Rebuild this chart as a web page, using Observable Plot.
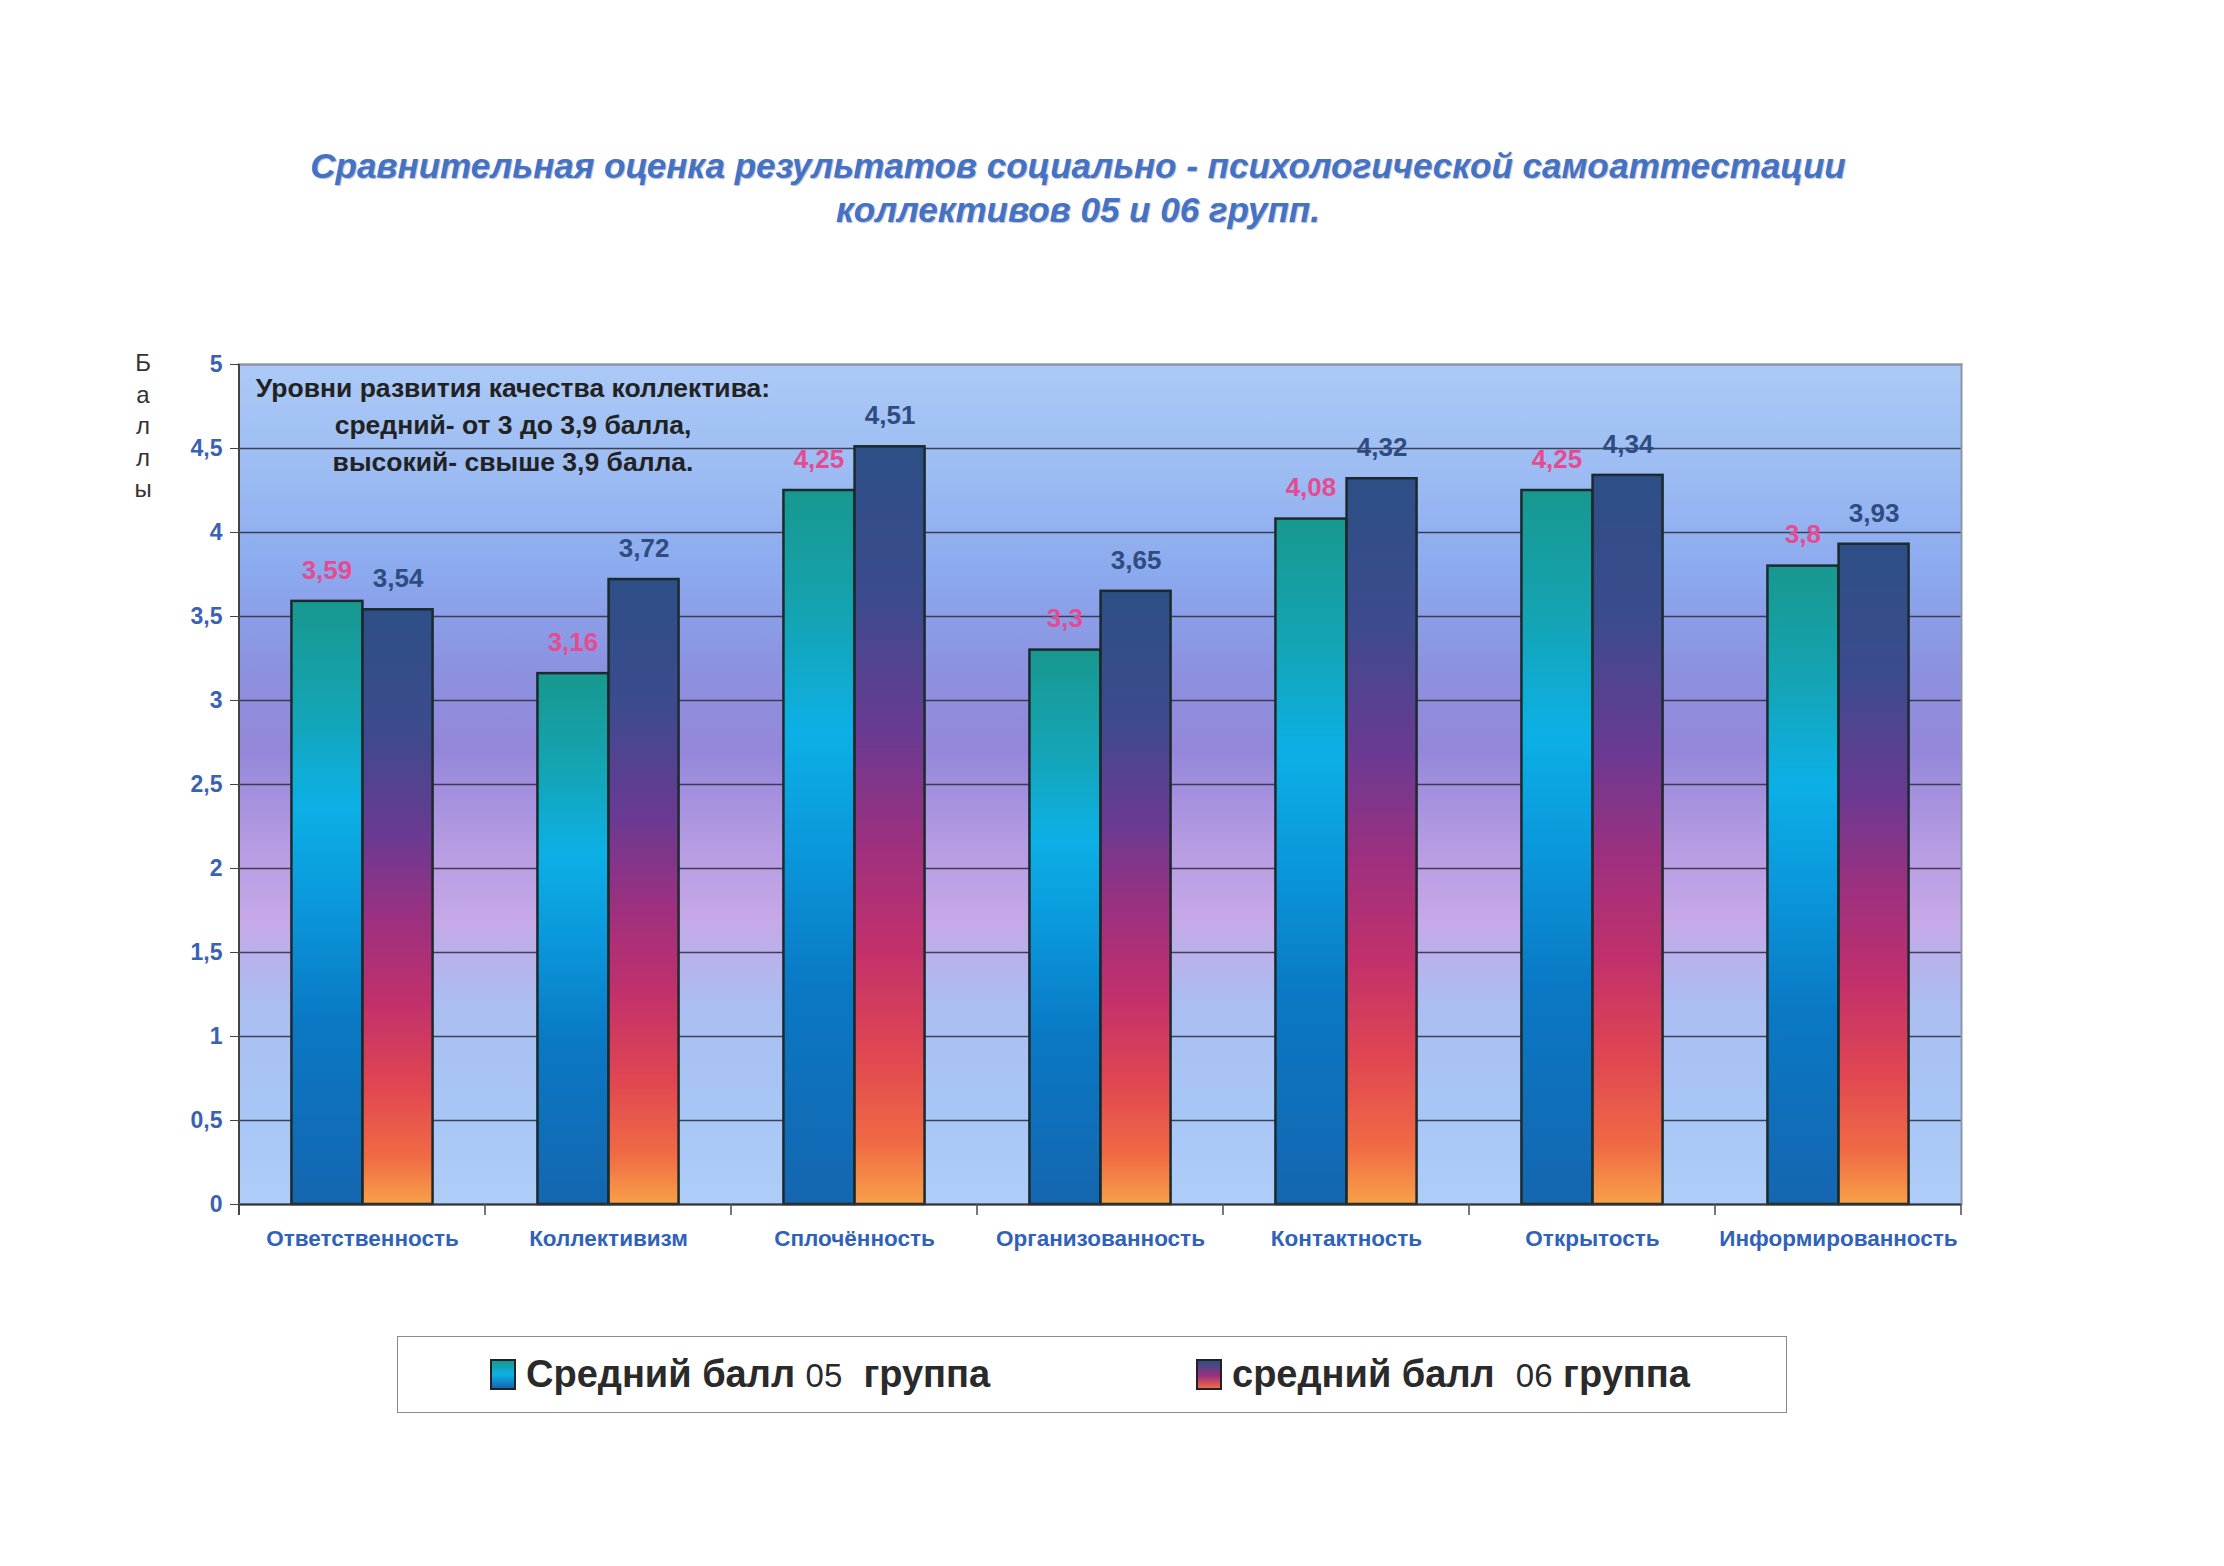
<!DOCTYPE html>
<html>
<head>
<meta charset="utf-8">
<script src="https://cdn.jsdelivr.net/npm/d3@7"></script>
<script src="https://cdn.jsdelivr.net/npm/@observablehq/plot@0.6"></script>
<style>
  html, body { margin: 0; padding: 0; background: #fff; }
  #page { position: relative; width: 2224px; height: 1566px; overflow: hidden; background: #fff;
          font-family: "Liberation Sans", Arial, sans-serif; }
  #title { position: absolute; left: 0; top: 144px; width: 2156px; text-align: center;
           font-style: italic; font-weight: bold; font-size: 35px; line-height: 44px; color: #4472c4;
           text-shadow: 1px 1px 1px rgba(40,60,120,0.35); }
  #ylabel { position: absolute; left: 128px; top: 347px; width: 30px; text-align: center;
            font-size: 24px; line-height: 31.5px; color: #333; }
  #note { position: absolute; left: 223px; top: 370px; width: 580px; text-align: center;
          font-weight: bold; font-size: 26.5px; line-height: 37px; color: #222; }
  #chart { position: absolute; left: 0; top: 300px; }
  #legend { position: absolute; left: 397px; top: 1336px; width: 1388px; height: 75px;
            border: 1.5px solid #8a8a8a; background: #fff; }
  .item { position: absolute; top: 17px; font-weight: bold; font-size: 38px; line-height: 40px; color: #2a2a2a; white-space: pre; }
  .sw { position: absolute; top: 8px; width: 22px; height: 27px; border: 2px solid #222; }
  .num { font-weight: normal; font-size: 33px; }
</style>
</head>
<body>
<div id="page">
  <div id="title">Сравнительная оценка результатов социально - психологической самоаттестации<br>коллективов 05 и 06 групп.</div>
  <div id="ylabel"></div>
  <div id="chart"></div>
  <div id="note"></div>
  <div id="legend"></div>
</div>
<script>
// ---- data ----
const categories = ["Ответственность", "Коллективизм", "Сплочённость", "Организованность", "Контактность", "Открытость", "Информированность"];
const group05 = [3.59, 3.16, 4.25, 3.3, 4.08, 4.25, 3.8];
const group06 = [3.54, 3.72, 4.51, 3.65, 4.32, 4.34, 3.93];
const seriesNames = ["Средний балл 05  группа", "средний балл  06 группа"];
const yTicks = [0, 0.5, 1, 1.5, 2, 2.5, 3, 3.5, 4, 4.5, 5];
const yLabel = "Баллы";
const noteLines = ["Уровни развития качества коллектива:", "средний- от 3 до 3,9 балла,", "высокий- свыше 3,9 балла."];

const rows05 = categories.map((c, i) => ({cat: c, v: group05[i]}));
const rows06 = categories.map((c, i) => ({cat: c, v: group06[i]}));
const fmt = v => String(v).replace(".", ",");

// ---- layout ----
const W = 2224, H = 980, mL = 238, mR = 263, mT = 64, mB = 76;
const bw = (W - mL - mR) / categories.length;
const inOuter = 0.213 * bw, barW = 0.289 * bw;
const off = barW / 2;

const chart = Plot.plot({
  width: W, height: H,
  marginLeft: mL, marginRight: mR, marginTop: mT, marginBottom: mB,
  style: {fontFamily: "'Liberation Sans', Arial, sans-serif", background: "transparent", overflow: "visible"},
  x: {domain: categories, padding: 0, label: null},
  y: {domain: [0, 5], label: null},
  marks: [
    Plot.frame({fill: "url(#bgGrad)", stroke: "none"}),
    Plot.gridY(yTicks, {stroke: "#2b2b3a", strokeOpacity: 0.85, strokeWidth: 1.4}),
    Plot.frame({anchor: "top", stroke: "#8d96a8", strokeWidth: 2}),
    Plot.frame({anchor: "right", stroke: "#8d96a8", strokeWidth: 2}),
    Plot.barY(rows05, {x: "cat", y: "v", fill: "url(#g05)", stroke: "#1b2a2c", strokeWidth: 2.5,
                       insetLeft: inOuter, insetRight: bw - inOuter - barW}),
    Plot.barY(rows06, {x: "cat", y: "v", fill: "url(#g06)", stroke: "#1b2a2c", strokeWidth: 2.5,
                       insetLeft: inOuter + barW, insetRight: inOuter}),
    Plot.text(rows05, {x: "cat", y: "v", text: d => fmt(d.v), dx: -off, dy: -31,
                       fill: "#e54b91", fontSize: 26, fontWeight: "bold"}),
    Plot.text(rows06, {x: "cat", y: "v", text: d => fmt(d.v), dx: off, dy: -31,
                       fill: "#2f4c80", fontSize: 26, fontWeight: "bold"}),
    Plot.axisY({ticks: yTicks, tickFormat: fmt, tickSize: 8, tickPadding: 8, fontSize: 23,
                fontWeight: "bold", fill: "#3a62b4", stroke: "#444", label: null}),
    Plot.axisX({tickSize: 0, tickPadding: 26, fontSize: 22.5, fontWeight: "bold", fill: "#2f62b8", label: null}),
    Plot.ruleY([0], {stroke: "#333", strokeWidth: 2})
  ]
});

// gradients
const svg = d3.select(chart);
const defs = svg.insert("defs", ":first-child");
function grad(id, stops) {
  const g = defs.append("linearGradient").attr("id", id).attr("x1", 0).attr("y1", 0).attr("x2", 0).attr("y2", 1);
  stops.forEach(([o, c]) => g.append("stop").attr("offset", o).attr("stop-color", c));
}
grad("bgGrad", [[0, "#abcaf7"], [0.12, "#9dbdf3"], [0.25, "#8ba9ee"], [0.36, "#8c92e0"], [0.46, "#9587da"],
                [0.57, "#b59be2"], [0.66, "#c6a8e8"], [0.76, "#abbdf1"], [0.88, "#a7c6f6"], [1, "#aecdf8"]]);
grad("g05", [[0, "#18988f"], [0.18, "#14a4b4"], [0.34, "#0cb0e6"], [0.5, "#0a98dc"], [0.7, "#0a78c4"], [1, "#1566b0"]]);
grad("g06", [[0, "#2d4f86"], [0.2, "#3c4b8e"], [0.38, "#6a3a92"], [0.52, "#9c3080"], [0.66, "#c1306c"],
             [0.8, "#e04652"], [0.92, "#f06a44"], [1, "#f8a048"]]);

// left axis line and boundary ticks using the x scale
const xs = chart.scale("x"), ys = chart.scale("y");
const y0 = ys.apply(0), y5 = ys.apply(5);
const g = svg.append("g").attr("stroke", "#555").attr("stroke-width", 1.6);
g.append("line").attr("x1", xs.apply(categories[0])).attr("x2", xs.apply(categories[0]))
  .attr("y1", y5).attr("y2", y0 + 11).attr("stroke", "#444").attr("stroke-width", 2);
categories.slice(1).concat([null]).forEach(c => {
  const x = c === null ? xs.apply(categories[categories.length - 1]) + xs.bandwidth : xs.apply(c);
  g.append("line").attr("x1", x).attr("x2", x).attr("y1", y0).attr("y2", y0 + 11);
});

document.getElementById("chart").appendChild(chart);

// y label (stacked letters)
document.getElementById("ylabel").innerHTML = yLabel.split("").join("<br>");
document.getElementById("note").innerHTML = noteLines.join("<br>");

// legend
const legend = document.getElementById("legend");
const items = [
  {x: 92, tx: 128, grad: "linear-gradient(#18988f, #0cb0e6 50%, #1566b0)", name: seriesNames[0]},
  {x: 798, tx: 834, grad: "linear-gradient(#2d4f86, #9c3080 55%, #f06a44)", name: seriesNames[1]}
];
items.forEach(it => {
  const sw = document.createElement("div");
  sw.className = "sw"; sw.style.left = it.x + "px"; sw.style.top = "22px"; sw.style.background = it.grad;
  legend.appendChild(sw);
  const t = document.createElement("div");
  t.className = "item"; t.style.left = it.tx + "px";
  t.innerHTML = it.name.replace(/(0[56])/, '<span class="num">$1</span>');
  legend.appendChild(t);
});
</script>
</body>
</html>
